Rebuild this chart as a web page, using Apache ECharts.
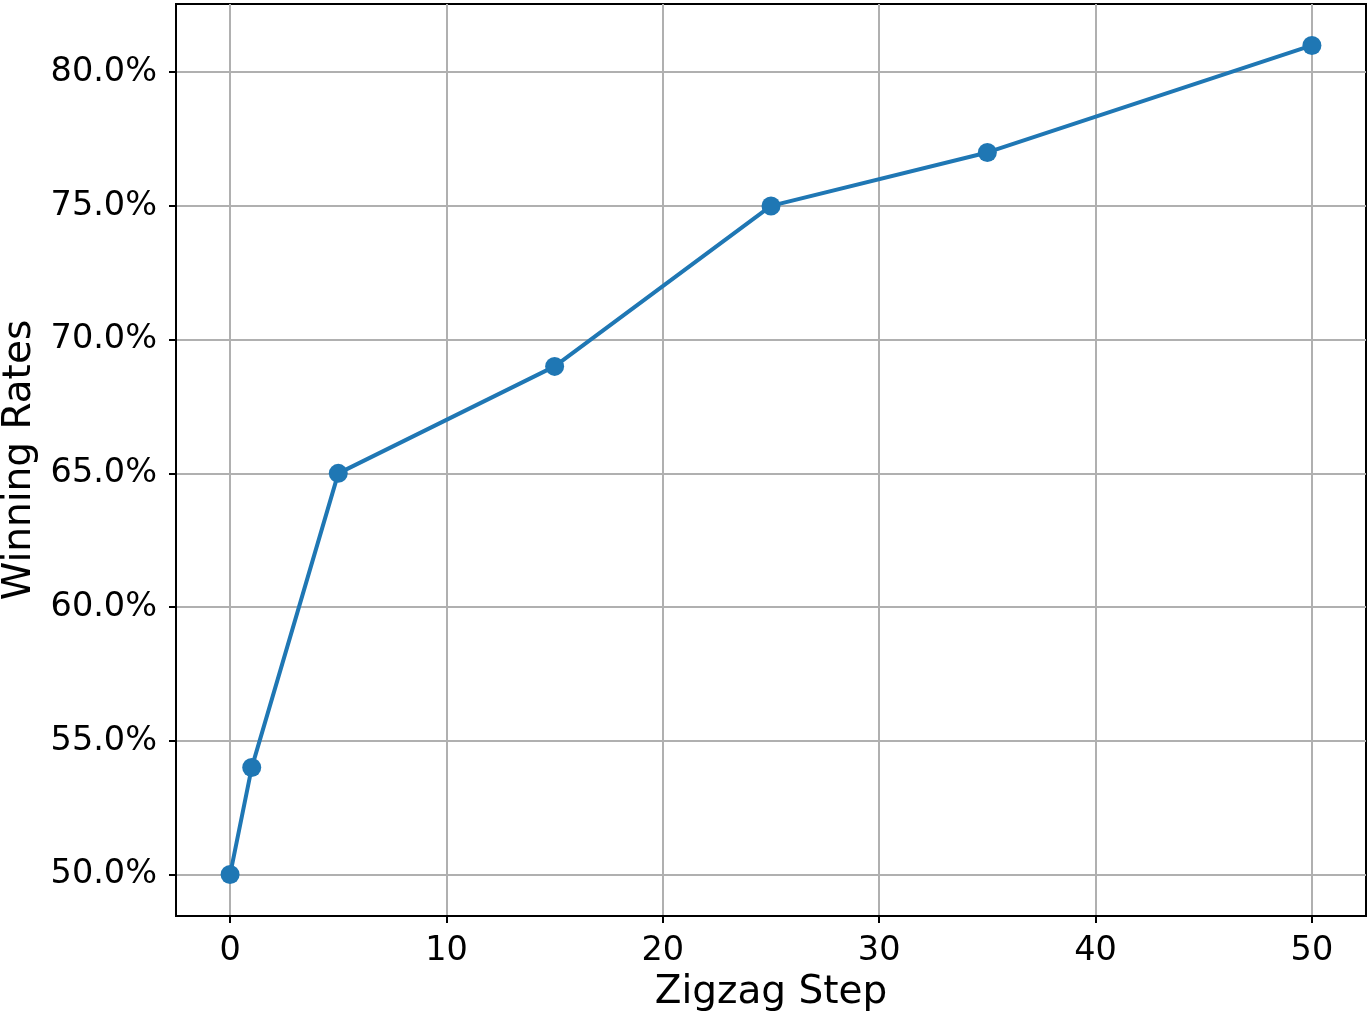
<!DOCTYPE html>
<html>
<head>
<meta charset="utf-8">
<script src="https://cdn.jsdelivr.net/npm/echarts@6/dist/echarts.min.js"></script>
<style>
  html, body { margin: 0; padding: 0; background: #fff; }
  #chart { width: 1370px; height: 1018px; }
</style>
</head>
<body>
<div id="chart"></div>
<script>
// zigzag step vs winning rate (%)
const steps = [0, 1, 5, 15, 25, 35, 50];
const winRates = [50, 54, 65, 69, 75, 77, 81];
const xTicks = [0, 10, 20, 30, 40, 50];
const yTicks = [50, 55, 60, 65, 70, 75, 80];

const chart = echarts.init(document.getElementById('chart'));
const font = 'DejaVu Sans';

chart.setOption({
    animation: false,
    grid: {
        left: 176,
        right: 4,
        top: 4,
        bottom: 102,
        outerBoundsMode: 'none',
        containLabel: false,
        show: true,
        borderColor: '#000',
        borderWidth: 2
    },
    xAxis: {
        type: 'value',
        min: -2.5,
        max: 52.5,
        name: 'Zigzag Step',
        nameLocation: 'middle',
        nameGap: 56,
        nameTextStyle: { fontFamily: font, fontSize: 39, color: '#000' },
        axisLine: { show: true, onZero: false, lineStyle: { color: '#000', width: 2 } },
        axisTick: {
            show: true, length: 7, customValues: xTicks,
            lineStyle: { color: '#000', width: 2 }
        },
        axisLabel: {
            customValues: xTicks,
            margin: 18,
            fontFamily: font, fontSize: 33.5, color: '#000'
        },
        splitLine: { show: true, lineStyle: { color: '#b0b0b0', width: 2 } }
    },
    yAxis: {
        type: 'value',
        min: 48.45,
        max: 82.55,
        name: 'Winning Rates',
        nameLocation: 'middle',
        nameGap: 130,
        nameTextStyle: { fontFamily: font, fontSize: 39, color: '#000' },
        axisLine: { show: true, onZero: false, lineStyle: { color: '#000', width: 2 } },
        axisTick: {
            show: true, length: 7, customValues: yTicks,
            lineStyle: { color: '#000', width: 2 }
        },
        axisLabel: {
            customValues: yTicks,
            margin: 19,
            fontFamily: font, fontSize: 33.5, color: '#000',
            formatter: v => v.toFixed(1) + '%'
        },
        splitLine: { show: true, lineStyle: { color: '#b0b0b0', width: 2 } }
    },
    series: [{
        type: 'line',
        data: steps.map((s, i) => [s, winRates[i]]),
        symbol: 'circle',
        symbolSize: 19,
        lineStyle: { color: '#1f77b4', width: 4 },
        itemStyle: { color: '#1f77b4' }
    }]
});
</script>
</body>
</html>
